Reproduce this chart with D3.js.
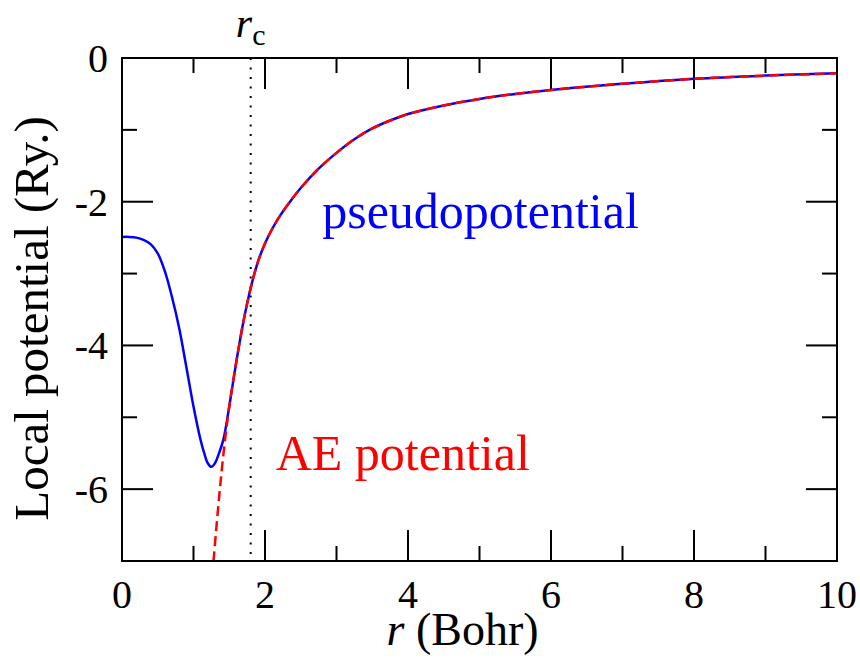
<!DOCTYPE html>
<html>
<head>
<meta charset="utf-8">
<script src="https://cdn.jsdelivr.net/npm/d3@7"></script>
<style>
  html, body { margin: 0; padding: 0; background: #fff; }
  svg text { font-family: "Liberation Serif", "DejaVu Serif", serif; }
</style>
</head>
<body>
<div id="chart"></div>
<script>
// Local pseudopotential vs all-electron potential
const xTicks = [0, 2, 4, 6, 8, 10];
const yTicks = [0, -2, -4, -6];
const rCut = 1.8;

// pseudopotential (blue, solid)
const rPseudo = [0, 0.1, 0.2, 0.3, 0.4, 0.5, 0.6, 0.7, 0.8, 0.9, 1.0, 1.1, 1.15, 1.2, 1.25, 1.3, 1.35, 1.42,
  1.5, 1.6, 1.7, 1.8, 1.9, 2.0, 2.1, 2.2, 2.35, 2.5, 2.75, 3.0, 3.25, 3.5, 3.75, 4.0, 4.5, 5.0, 5.5, 6.0, 7.0, 8.0, 9.0, 10.0];
const vPseudo = [-2.49, -2.49, -2.5, -2.53, -2.59, -2.72, -2.97, -3.33, -3.76, -4.3, -4.85, -5.32, -5.5, -5.64, -5.69, -5.64, -5.52, -5.3,
  -4.85, -4.22, -3.66, -3.2, -2.84, -2.58, -2.38, -2.21, -2.0, -1.81, -1.54, -1.32, -1.13, -0.98, -0.87, -0.78, -0.66, -0.57, -0.5, -0.445, -0.36, -0.29, -0.245, -0.213];

// all-electron potential (red, dashed)
const rAE = [1.28, 1.35, 1.42, 1.5, 1.6, 1.7, 1.8, 1.9, 2.0, 2.1, 2.2, 2.35, 2.5, 2.75, 3.0, 3.25, 3.5, 3.75, 4.0, 4.5, 5.0, 5.5, 6.0, 7.0, 8.0, 9.0, 10.0];
const vAE = [-7.0, -6.2, -5.5, -4.85, -4.22, -3.66, -3.2, -2.84, -2.58, -2.38, -2.21, -2.0, -1.81, -1.54, -1.32, -1.13, -0.98, -0.87, -0.78, -0.66, -0.57, -0.5, -0.445, -0.36, -0.29, -0.245, -0.213];

(() => {
  const W = 860, H = 662;
  const m = { top: 58, right: 23, bottom: 101, left: 122 };
  const w = W - m.left - m.right;
  const h = H - m.top - m.bottom;

  const svg = d3.select("#chart").append("svg").attr("width", W).attr("height", H);
  const g = svg.append("g").attr("transform", `translate(${m.left},${m.top})`);

  const x = d3.scaleLinear().domain([0, 10]).range([0, w]);
  const y = d3.scaleLinear().domain([-7, 0]).range([h, 0]);

  const tickFont = 40;

  // inward ticks on all four sides
  const minorX = d3.range(1, 10, 2);
  const minorY = [-1, -3, -5];
  const tk = g.append("g").attr("stroke", "#000").attr("stroke-width", 2);
  xTicks.concat(minorX).forEach(v => {
    const L = xTicks.includes(v) ? 31 : 15;
    tk.append("line").attr("x1", x(v)).attr("x2", x(v)).attr("y1", h).attr("y2", h - L);
    tk.append("line").attr("x1", x(v)).attr("x2", x(v)).attr("y1", 0).attr("y2", L);
  });
  yTicks.concat(minorY).forEach(v => {
    const L = yTicks.includes(v) ? 31 : 15;
    tk.append("line").attr("x1", 0).attr("x2", L).attr("y1", y(v)).attr("y2", y(v));
    tk.append("line").attr("x1", w).attr("x2", w - L).attr("y1", y(v)).attr("y2", y(v));
  });

  g.selectAll(".xl").data(xTicks).join("text")
    .attr("x", d => x(d)).attr("y", h + 47)
    .attr("text-anchor", "middle").attr("font-size", tickFont).text(d => d);
  g.selectAll(".yl").data(yTicks).join("text")
    .attr("x", -14).attr("y", d => y(d)).attr("dy", "0.35em")
    .attr("text-anchor", "end").attr("font-size", tickFont).text(d => d);

  // r_c marker
  g.append("line").attr("x1", x(rCut)).attr("x2", x(rCut)).attr("y1", 0).attr("y2", h)
    .attr("stroke", "#000").attr("stroke-width", 2).attr("stroke-dasharray", "2,7.5");
  const rc = g.append("text").attr("x", x(rCut)).attr("y", -21).attr("text-anchor", "middle").attr("font-size", 42);
  rc.append("tspan").attr("font-style", "italic").text("r");
  rc.append("tspan").attr("dy", 8).attr("font-size", 30).text("c");

  const line = d3.line().x(d => x(d[0])).y(d => y(d[1])).curve(d3.curveCatmullRom.alpha(0.5));

  g.append("path").datum(d3.zip(rPseudo, vPseudo)).attr("d", line)
    .attr("fill", "none").attr("stroke", "#0000ff").attr("stroke-width", 2.5);
  g.append("path").datum(d3.zip(rAE, vAE)).attr("d", line)
    .attr("fill", "none").attr("stroke", "#ff0000").attr("stroke-width", 2.5)
    .attr("stroke-dasharray", "10,5");

  // frame
  g.append("rect").attr("width", w).attr("height", h)
    .attr("fill", "none").attr("stroke", "#000").attr("stroke-width", 2);

  g.append("text").attr("x", x(2.8)).attr("y", y(-2.36)).attr("fill", "#0000ff")
    .attr("font-size", 50).text("pseudopotential");
  g.append("text").attr("x", x(2.15)).attr("y", y(-5.74)).attr("fill", "#ff0000")
    .attr("font-size", 50).text("AE potential");

  const xl = g.append("text").attr("x", w / 2 - 17).attr("y", h + 84).attr("text-anchor", "middle").attr("font-size", 46);
  xl.append("tspan").attr("font-style", "italic").text("r");
  xl.append("tspan").text(" (Bohr)");

  g.append("text").attr("transform", `translate(-74,${h / 2 + 9}) rotate(-90)`)
    .attr("text-anchor", "middle").attr("font-size", 49).text("Local potential (Ry.)");
})();
</script>
</body>
</html>
